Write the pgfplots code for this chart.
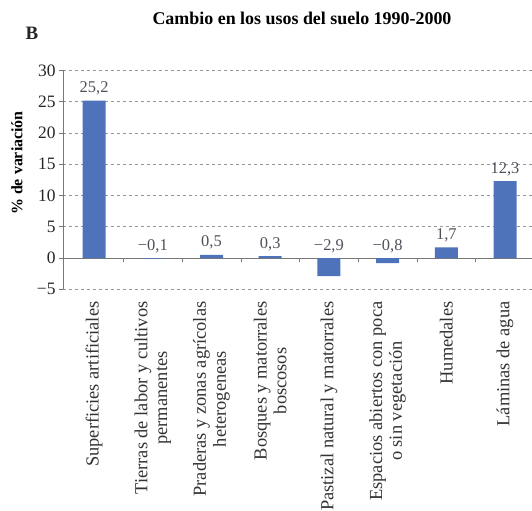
\documentclass[border=0pt]{standalone}
\usepackage{fontspec}
\setmainfont{Liberation Serif}
\usepackage{pgfplots}
\pgfplotsset{compat=1.18}
\definecolor{barblue}{RGB}{78,115,186}
\definecolor{labgray}{RGB}{80,80,92}
\definecolor{gridgray}{RGB}{150,150,150}
\definecolor{axgray}{RGB}{120,120,120}
\begin{document}
\begin{tikzpicture}
\path[use as bounding box] (0,0) rectangle (532bp,511bp);
\begin{axis}[
  at={(63bp,221.7bp)}, anchor=south west,
  scale only axis, width=469bp, height=218.8bp,
  xmin=-0.53, xmax=7.46, ymin=-5, ymax=30,
  axis y line=left, axis x line=middle,
  axis line style={-, draw=axgray, line width=0.8pt},
  ytick={-5,0,5,10,15,20,25,30},
  yticklabels={−5,0,5,10,15,20,25,30},
  ymajorgrids, grid style={dashed, gridgray, line width=0.6pt},
  y tick style={draw=axgray, line width=0.6pt},
  ytick align=outside, major tick length=4bp,
  xtick={0,...,7},
  x tick style={draw=none},
  minor xtick={0.5,1.5,2.5,3.5,4.5,5.5,6.5},
  minor x tick style={draw=axgray, line width=0.6pt},
  minor tick length=4bp,
  xtick align=outside,
  xticklabels={Superficies artificiales,
    {Tierras de labor y cultivos\\permanentes},
    {Praderas y zonas agrícolas\\heterogeneas},
    {Bosques y matorrales\\boscosos},
    Pastizal natural y matorrales,
    {Espacios abiertos con poca\\o sin vegetación},
    Humedales,
    Láminas de agua},
  xticklabel style={rotate=90, anchor=east, align=center, font=\fontsize{18.5}{20}\selectfont, text=black!80},
  xticklabel shift={36bp},
  yticklabel style={font=\fontsize{17.5}{18}\selectfont, text=black!85},
  /pgf/number format/assume math mode=true,
  clip=false,
]
\addplot[ybar, bar width=23bp, fill=barblue, draw=none]
  coordinates {(0,25.2) (1,-0.1) (2,0.5) (3,0.3) (4,-2.9) (5,-0.8) (6,1.7) (7,12.3)};
\addplot[draw=none, mark=none, point meta=explicit symbolic,
  nodes near coords,
  nodes near coords style={anchor=base, yshift=8bp, text=labgray, font=\fontsize{16.5}{18}\selectfont}]
  coordinates {(0,25.2) [25,2] (1,0) [−0,1] (2,0.5) [0,5] (3,0.3) [0,3] (4,0) [−2,9] (5,0) [−0,8] (6,1.7) [1,7] (7,12.3) [12,3]};
\end{axis}
\node[font=\bfseries\fontsize{18}{21}\selectfont] at (302bp,493bp) {Cambio en los usos del suelo 1990-2000};
\node[font=\bfseries\fontsize{19}{22}\selectfont, text=black!85] at (32bp,478bp) {B};
\node[rotate=90, font=\bfseries\fontsize{16}{19}\selectfont] at (17bp,348bp) {\% de variación};
\end{tikzpicture}
\end{document}
